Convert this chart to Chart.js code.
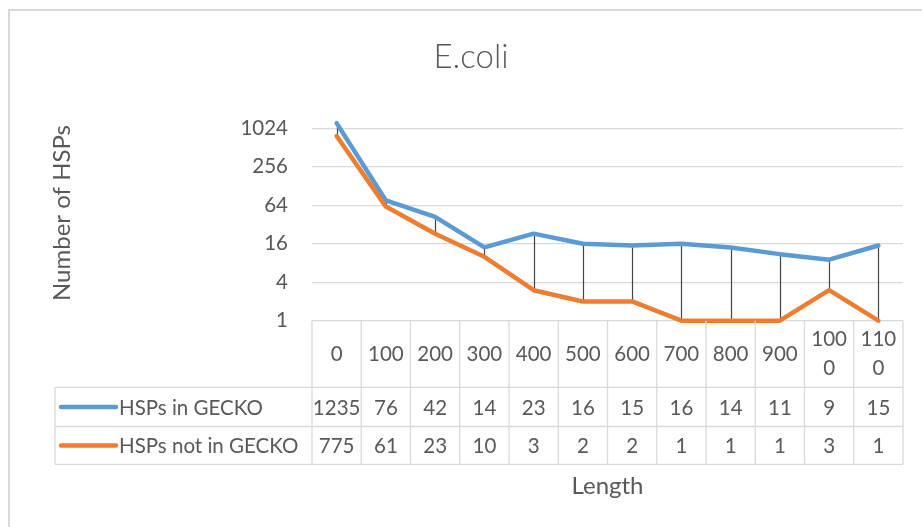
<!DOCTYPE html>
<html>
<head>
<meta charset="utf-8">
<title>E.coli</title>
<script src="https://cdn.jsdelivr.net/npm/chart.js@4/dist/chart.umd.min.js"></script>
<style>
  html, body { margin: 0; padding: 0; background: #fff; overflow: hidden; }
  #wrap { width: 922px; height: 527px; position: relative; }
</style>
</head>
<body>
<div id="wrap"><canvas id="chart" width="922" height="527"></canvas></div>
<script>
// HSP counts per length bin
const lengths = [0, 100, 200, 300, 400, 500, 600, 700, 800, 900, 1000, 1100];
const headerLabels = ['0', '100', '200', '300', '400', '500', '600', '700', '800', '900', ['100', '0'], ['110', '0']];
const inGecko = [1235, 76, 42, 14, 23, 16, 15, 16, 14, 11, 9, 15];
const notInGecko = [775, 61, 23, 10, 3, 2, 2, 1, 1, 1, 3, 1];
const yTicks = [1, 4, 16, 64, 256, 1024];
const seriesNames = ['HSPs in GECKO', 'HSPs not in GECKO'];
const chartTitle = 'E.coli';

const BLUE = '#5b9bd5';
const ORANGE = '#ed7d31';
const TEXT = '#595959';
const RULE = '#d9d9d9';
const FONT = 'Lato, "Open Sans", sans-serif';

// Data-table geometry below the plot
const HEADER_H = 66.6;
const ROW_H = [39.2, 37.8];
const TABLE_LEFT = 55;
const KEY_X0 = 61, KEY_X1 = 116, KEY_TEXT_X = 119;

const framePlugin = {
  id: 'frame',
  beforeDraw(chart) {
    const ctx = chart.ctx;
    ctx.save();
    ctx.fillStyle = '#fff';
    ctx.fillRect(0, 0, chart.width, chart.height);
    ctx.strokeStyle = RULE;
    ctx.lineWidth = 2;
    ctx.strokeRect(9, 10, chart.width + 50, chart.height + 50);
    ctx.restore();
  }
};

// Vertical drop lines joining the two series at each length bin
const dropLinePlugin = {
  id: 'dropLines',
  beforeDatasetsDraw(chart) {
    const a = chart.getDatasetMeta(0).data;
    const b = chart.getDatasetMeta(1).data;
    const ctx = chart.ctx;
    ctx.save();
    ctx.strokeStyle = '#444444';
    ctx.lineWidth = 1.2;
    for (let i = 0; i < a.length; i++) {
      ctx.beginPath();
      ctx.moveTo(Math.round(a[i].x) + 0.5, a[i].y);
      ctx.lineTo(Math.round(b[i].x) + 0.5, b[i].y);
      ctx.stroke();
    }
    ctx.restore();
  }
};

// Title, data table with legend keys, and axis titles
const tablePlugin = {
  id: 'dataTable',
  afterDraw(chart) {
    const ctx = chart.ctx;
    const area = chart.chartArea;
    const xs = chart.scales.x;
    const n = lengths.length;
    const step = (area.right - area.left) / n;
    const top = area.bottom;
    const r0 = top + HEADER_H;
    const r1 = r0 + ROW_H[0];
    const r2 = r1 + ROW_H[1];

    ctx.save();

    // chart title
    ctx.fillStyle = TEXT;
    ctx.font = '300 33px ' + FONT;
    ctx.textAlign = 'center';
    ctx.textBaseline = 'middle';
    ctx.fillText(chartTitle, 471, 57);

    ctx.strokeStyle = RULE;
    ctx.lineWidth = 1.3;
    // column rules
    for (let k = 0; k <= n; k++) {
      const x = area.left + k * step;
      ctx.beginPath();
      ctx.moveTo(x, top);
      ctx.lineTo(x, r2);
      ctx.stroke();
    }
    // row rules
    [r0, r1, r2].forEach(y => {
      ctx.beginPath();
      ctx.moveTo(TABLE_LEFT, y);
      ctx.lineTo(area.right, y);
      ctx.stroke();
    });
    ctx.beginPath();
    ctx.moveTo(TABLE_LEFT, r0);
    ctx.lineTo(TABLE_LEFT, r2);
    ctx.stroke();

    // header (category) labels
    ctx.font = '20.5px ' + FONT;
    const lineGap = 29;
    const hc = top + HEADER_H / 2;
    headerLabels.forEach((lab, i) => {
      const x = xs.getPixelForValue(i);
      const lines = Array.isArray(lab) ? lab : [lab];
      lines.forEach((t, j) => {
        ctx.fillText(t, x, hc + (j - (lines.length - 1) / 2) * lineGap);
      });
    });

    // value rows
    const rowCenters = [(r0 + r1) / 2, (r1 + r2) / 2];
    [inGecko, notInGecko].forEach((vals, r) => {
      vals.forEach((v, i) => {
        ctx.fillText(String(v), xs.getPixelForValue(i), rowCenters[r] + 1);
      });
    });

    // legend keys
    const colors = [BLUE, ORANGE];
    ctx.lineCap = 'round';
    ctx.lineWidth = 4.5;
    rowCenters.forEach((y, r) => {
      ctx.strokeStyle = colors[r];
      ctx.beginPath();
      ctx.moveTo(KEY_X0, y);
      ctx.lineTo(KEY_X1, y);
      ctx.stroke();
      ctx.textAlign = 'left';
      ctx.fillText(seriesNames[r], KEY_TEXT_X, y + 1);
    });

    // axis titles
    ctx.font = '24px ' + FONT;
    ctx.textAlign = 'center';
    ctx.fillText('Length', (area.left + area.right) / 2, 486);
    ctx.translate(62, 213);
    ctx.rotate(-Math.PI / 2);
    ctx.fillText('Number of HSPs', 0, 0);
    ctx.restore();
  }
};

new Chart(document.getElementById('chart'), {
  type: 'line',
  data: {
    labels: lengths.map(String),
    datasets: [
      {
        label: seriesNames[0],
        data: inGecko,
        borderColor: BLUE,
        backgroundColor: BLUE,
        borderWidth: 4.5,
        pointRadius: 0,
        tension: 0,
        clip: false,
        borderCapStyle: 'round',
        borderJoinStyle: 'round',
        order: 1
      },
      {
        label: seriesNames[1],
        data: notInGecko,
        borderColor: ORANGE,
        backgroundColor: ORANGE,
        borderWidth: 4.5,
        pointRadius: 0,
        tension: 0,
        clip: false,
        borderCapStyle: 'round',
        borderJoinStyle: 'round',
        order: 0
      }
    ]
  },
  options: {
    responsive: false,
    animation: false,
    devicePixelRatio: 1,
    layout: { padding: { left: 0, right: 19, top: 128.3, bottom: 206.3 } },
    plugins: {
      legend: { display: false },
      tooltip: { enabled: false },
      title: { display: false }
    },
    scales: {
      x: {
        type: 'category',
        offset: true,
        display: false
      },
      y: {
        type: 'logarithmic',
        min: 1,
        max: 1024,
        afterBuildTicks: s => { s.ticks = yTicks.map(v => ({ value: v })); },
        afterFit: s => { s.width = 312; },
        ticks: {
          callback: v => String(v),
          color: TEXT,
          font: { family: FONT, size: 20.5 },
          padding: 24
        },
        grid: { color: RULE, lineWidth: 1.3, drawTicks: false },
        border: { display: false }
      }
    }
  },
  plugins: [framePlugin, dropLinePlugin, tablePlugin]
});
</script>
</body>
</html>
